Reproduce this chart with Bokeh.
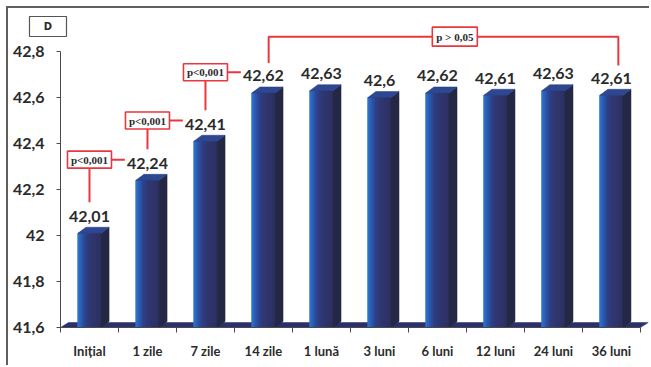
from bokeh.plotting import figure
from bokeh.models import FixedTicker, CustomJSTickFormatter
from bokeh.core.properties import value
from bokeh.embed import file_html
from bokeh.resources import INLINE

# ---- data -------------------------------------------------------------
categories = ["Inițial", "1 zile", "7 zile", "14 zile", "1 lună",
              "3 luni", "6 luni", "12 luni", "24 luni", "36 luni"]
values = [42.01, 42.24, 42.41, 42.62, 42.63, 42.6, 42.62, 42.61, 42.63, 42.61]
y_ticks = [41.6, 41.8, 42.0, 42.2, 42.4, 42.6, 42.8]
# significance between consecutive time points
pair_tests = [(0, 1, "p<0,001"), (1, 2, "p<0,001"), (2, 3, "p<0,001")]
# significance over a span of time points
span_test = (3, 9, "p > 0,05")
panel_tag = "D"

# ---- geometry helpers (data units per screen pixel) -------------------
PXX = 1 / 58.0
PXY = 1 / 230.0
BASE = 41.6                        # value axis starts here
Y0, Y1 = BASE - 40 * PXY, 42.97    # frame runs to the bottom edge
X0, X1 = -0.5 - 52 * PXX, 9.64     # frame runs to the left edge
half = 0.2                 # half width of the bar front face
dx, dy = 8 * PXX, 6 * PXY  # depth offset of the 3-D effect

RED = "#e8383f"
AXIS = "#4a4a4a"
TEXT = "#2b2b2b"

p = figure(width=643, height=359, x_range=(X0, X1), y_range=(Y0, Y1),
           output_backend="svg", toolbar_location=None,
           min_border_left=0, min_border_right=3, min_border_top=4,
           min_border_bottom=0, margin=(6, 0, 0, 6),
           styles={"border-top": "2px solid #5f5f5f",
                   "border-left": "2px solid #5f5f5f"})
p.xgrid.visible = False
p.ygrid.visible = False
p.outline_line_color = None
p.background_fill_color = "white"
p.border_fill_color = "white"

# ---- floor slab -------------------------------------------------------
p.patch([-0.5, 9.5, 9.5 + dx, -0.5 + dx],
        [BASE, BASE, BASE + 5 * PXY, BASE + 5 * PXY],
        fill_color="#2b2f6c", line_color="#2b2f6c", line_width=0.5)

# ---- 3-D bars ---------------------------------------------------------
def mix(c1, c2, t):
    a = [int(c1[i:i + 2], 16) for i in (1, 3, 5)]
    b = [int(c2[i:i + 2], 16) for i in (1, 3, 5)]
    return "#%02x%02x%02x" % tuple(round(a[k] + (b[k] - a[k]) * t) for k in range(3))

stops = [(0.0, "#2c7ad4"), (0.14, "#2a5fb8"), (0.35, "#2e4088"),
         (0.6, "#30366f"), (1.0, "#2c2f62")]

def grad(t):
    for (t0, c0), (t1, c1) in zip(stops, stops[1:]):
        if t <= t1:
            return mix(c0, c1, (t - t0) / (t1 - t0))
    return stops[-1][1]

n_strips = 12
sw = 2 * half / n_strips
xs_f, tops_f, cols_f = [], [], []
for i, v in enumerate(values):
    for k in range(n_strips):
        xs_f.append(i - half + sw * (k + 0.5))
        tops_f.append(v)
        cols_f.append(grad((k + 0.5) / n_strips))
p.vbar(x=xs_f, top=tops_f, bottom=BASE, width=sw,
       fill_color=cols_f, line_color=cols_f, line_width=1.0)

side_xs, side_ys, cap_xs, cap_ys = [], [], [], []
for i, v in enumerate(values):
    r = i + half
    l = i - half
    side_xs.append([r, r + dx, r + dx, r])
    side_ys.append([BASE, BASE + dy, v + dy, v])
    cap_xs.append([l, l + dx, r + dx, r])
    cap_ys.append([v, v + dy, v + dy, v])
p.patches(side_xs, side_ys, fill_color="#252844", line_color="#252844", line_width=0.5)
p.patches(cap_xs, cap_ys, fill_color="#2d4792", line_color="#2a3c80", line_width=0.5)

# ---- value labels -----------------------------------------------------
p.text(x=list(range(len(values))), y=[v + 17 * PXY for v in values],
       text=[str(v).replace(".", ",") for v in values],
       text_font=value("Lato"), text_font_style="bold", text_font_size="16px",
       text_color=TEXT, text_align="center", text_baseline="alphabetic")

# ---- significance brackets -------------------------------------------
def p_box(x, y, w, h, label, font="Liberation Serif", size="11px", lc=RED, lw=1.6):
    p.rect(x=[x], y=[y], width=w, height=h, width_units="screen",
           height_units="screen", fill_color="white", line_color=lc,
           line_width=lw)
    p.text(x=[x], y=[y], text=[label], text_font=value(font),
           text_font_style="bold", text_font_size=size, text_color=TEXT,
           text_align="center", text_baseline="middle")

for i, j, label in pair_tests:
    by = values[j] + 0.09
    p.line([i, i], [by, values[i] + 0.135], line_color=RED, line_width=2)
    p.line([i, j - 0.39], [by, by], line_color=RED, line_width=2)
    p_box(i, by, 44, 17, label)

a, b, label = span_test
top = max(values[a:b + 1]) + 0.235
p.line([a + 0.09, a + 0.09, b + 0.12, b + 0.12],
       [values[a] + 0.13, top, top, values[b] + 0.13],
       line_color=RED, line_width=2)
p_box((a + b) / 2 + 0.3, top, 45, 19, label)

# ---- panel tag, top-left corner -------------------------------------
p_box(-0.5 - 12.5 * PXX, Y1 - 14 * PXY, 37, 20, panel_tag,
      font="DejaVu Sans", size="10px", lc="#555555", lw=1.2)

# ---- axes -------------------------------------------------------------
xa = p.xaxis[0]
xa.fixed_location = BASE
xa.ticker = FixedTicker(ticks=list(range(len(categories))),
                        minor_ticks=[k - 0.5 for k in range(len(categories) + 1)])
xa.major_label_overrides = {k: c for k, c in enumerate(categories)}
xa.bounds = (-0.5, 9.5)
xa.major_tick_in = 0
xa.major_tick_out = 0
xa.minor_tick_in = 0
xa.minor_tick_out = 5
xa.axis_line_color = AXIS
xa.minor_tick_line_color = AXIS
xa.major_label_text_font = "Lato"
xa.major_label_text_font_style = "bold"
xa.major_label_text_font_size = "13px"
xa.major_label_text_color = TEXT
xa.major_label_standoff = 10

ya = p.yaxis[0]
ya.fixed_location = -0.5
ya.ticker = FixedTicker(ticks=y_ticks)
ya.formatter = CustomJSTickFormatter(code="""
    const s = tick.toFixed(1);
    return s.endsWith('.0') ? s.slice(0, -2) : s.replace('.', ',');
""")
ya.bounds = (BASE, 42.8)
ya.major_tick_in = 0
ya.major_tick_out = 4
ya.minor_tick_line_color = None
ya.axis_line_color = AXIS
ya.major_tick_line_color = AXIS
ya.major_label_text_font = "Lato"
ya.major_label_text_font_style = "bold"
ya.major_label_text_font_size = "16px"
ya.major_label_text_color = TEXT
ya.major_label_standoff = 12

open("out.html", "w").write(file_html(p, INLINE))
